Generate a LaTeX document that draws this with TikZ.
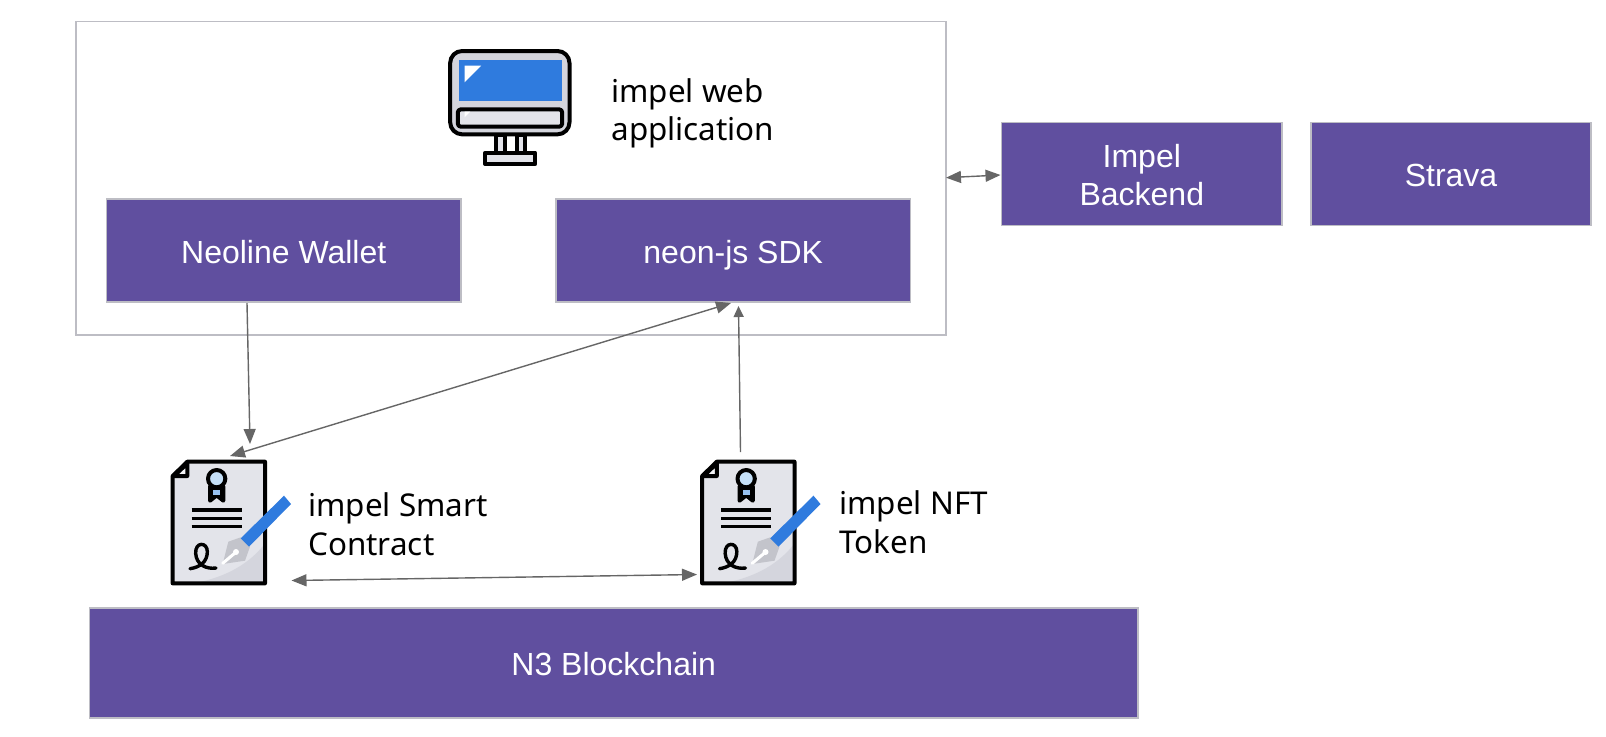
\documentclass[tikz,border=0pt]{standalone}
\usepackage{fontspec}
\setmainfont{Liberation Sans}
\newfontfamily\labelfont{Noto Sans}
\usetikzlibrary{arrows.meta}
\definecolor{boxpurple}{HTML}{604F9F}
\definecolor{boxedge}{HTML}{BDBDC4}
\definecolor{linkgray}{HTML}{666666}
\definecolor{iconblue}{HTML}{2F7BDE}
\definecolor{iconlight}{HTML}{E3E4EA}
\definecolor{iconmid}{HTML}{D4D5DD}
\definecolor{iconribbon}{HTML}{C5E0F8}
\newcommand{\boxline}[1]{\raisebox{-0.7pt}[0.72em][0pt]{#1}}
\tikzset{
  purplebox/.style={draw=boxedge,line width=0.75pt,fill=boxpurple,text=white,inner sep=0pt,align=center,font=\fontsize{16}{19}\selectfont},
  framebox/.style={draw=boxedge,line width=0.75pt,fill=white,inner sep=0pt},
  textlabel/.style={anchor=west,inner sep=0pt,align=left,text=black,font=\labelfont\fontsize{15.7}{19.3}\selectfont},
  iconholder/.style={inner sep=0pt},
  link/.style={draw=linkgray,line width=0.7pt},
  smalltip/.style={link,-{Triangle[length=5.5pt,width=5pt]}},
  onetip/.style={link,-{Triangle[length=7.5pt,width=6pt]}},
  twotips/.style={link,{Triangle[length=7.5pt,width=6pt]}-{Triangle[length=7.5pt,width=6pt]}},
  ink/.style={draw=black,line width=2pt,line join=round},
  thinink/.style={draw=black,line width=1.7pt,line cap=butt},
  contracticon/.pic={
    \fill[iconlight] (112,95)--(345,95)--(345,460)--(68,460)--(68,138)--cycle;
    \fill[iconmid] (140,458) .. controls (230,440) and (300,400) .. (345,340) -- (345,460) -- cycle;
    \draw[ink] (112,95)--(345,95)--(345,460)--(68,460)--(68,138)--cycle;
    \draw[ink,fill=iconlight!40!white] (112,100)--(112,138)--(72,138)--cycle;
    \draw[ink,fill=black] (180,170)--(180,212)--(200,196)--(220,212)--(220,170)--cycle;
    \fill[iconribbon!70!iconblue] (190,180) rectangle (210,196);
    \draw[ink,fill=iconribbon] (200,146) circle [radius=26];
    \draw[thinink] (125,240)--(275,240) (125,265)--(275,265) (125,290)--(275,290);
    \draw[thinink,line cap=round] (120,416) .. controls (150,412) and (172,395) .. (172,365) .. controls (172,335) and (135,335) .. (137,370) .. controls (139,405) and (170,418) .. (198,414);
    \fill[iconmid!92!black] (235,335)--(272,322)--(300,350)--(285,392)--(218,402)--cycle;
    \draw[white,line width=1.5pt,line cap=round] (218,400)--(256,368);
    \fill[white] (258,366) circle [radius=9];
    \fill[iconblue] (272,325)--(402,197)--(423,222)--(297,350)--cycle;
  },
}
\begin{document}
\begin{tikzpicture}[x=0.5pt,y=-0.5pt]
\useasboundingbox (0,0) rectangle (1606,736);

% Frame and boxes
\node[framebox,minimum width=434.9pt,minimum height=156.75pt] (webframe) at (510.9,178.25) {};
\node[purplebox,minimum width=177.25pt,minimum height=51.5pt] (neoline) at (283.75,250.5) {\boxline{Neoline Wallet}};
\node[purplebox,minimum width=177.25pt,minimum height=51.5pt] (neonjs) at (733.25,250.5) {\boxline{neon-js SDK}};
\node[purplebox,minimum width=140.2pt,minimum height=51.5pt] (backend) at (1141.8,174) {\boxline{Impel}\\\boxline{Backend}};
\node[purplebox,minimum width=140.2pt,minimum height=51.5pt] (strava) at (1451,174) {\boxline{Strava}};
\node[purplebox,minimum width=524.25pt,minimum height=55pt] (chain) at (613.75,663) {\boxline{N3 Blockchain}};

% Monitor icon
\node[iconholder,minimum width=61.5pt,minimum height=58pt] (monitor) at (510.5,107) {};
\begin{scope}[shift={(419.5,30)},x=0.16667pt,y=-0.16667pt]
  \draw[ink,fill=iconmid,rounded corners=6pt] (92,63) rectangle (450,313);
  \fill[iconblue] (117,90) rectangle (428,214);
  \fill[white] (135,107)--(185,107)--(135,157)--cycle;
  \draw[ink,fill=iconlight,rounded corners=1.5pt] (115,238) rectangle (428,290);
  \fill[white] (135,245)--(152,245)--(135,262)--cycle;
  \draw[ink,fill=iconlight] (229,315) rectangle (255,370);
  \draw[ink,fill=iconlight] (291,315) rectangle (316,370);
  \draw[ink,fill=iconlight] (197,368) rectangle (347,402);
\end{scope}

% Contract icons
\node[iconholder,minimum width=47pt,minimum height=61.5pt] (smart) at (219,522.5) {};
\node[iconholder,minimum width=47pt,minimum height=61.5pt] (nft) at (748.5,522.5) {};
\begin{scope}[shift={(150,430)},x=0.16667pt,y=-0.16667pt]
  \pic {contracticon};
\end{scope}
\begin{scope}[shift={(679.5,430)},x=0.16667pt,y=-0.16667pt]
  \pic {contracticon};
\end{scope}

% Labels
\node[textlabel] (weblabel) at (611,113.5) {impel web\\application};
\node[textlabel] (smartlabel) at (308,524) {impel Smart\\Contract};
\node[textlabel] (nftlabel) at (839,522.5) {impel NFT\\Token};

% Connector ends
\coordinate (neolineout) at (247,303);
\coordinate (smartin) at (250,444);
\coordinate (smarttop) at (230,456);
\coordinate (neonbottom) at (731,303);
\coordinate (nftout) at (740.5,452);
\coordinate (neonin) at (738.5,306);
\coordinate (smartside) at (291.5,580.5);
\coordinate (nftside) at (697,574.5);
\coordinate (frameright) at (946,177.7);
\coordinate (backendleft) at (1000.5,175);

% Connectors
\draw[onetip] (neolineout) -- (smartin);
\draw[twotips] (smarttop) -- (neonbottom);
\draw[smalltip] (nftout) -- (neonin);
\draw[twotips] (smartside) -- (nftside);
\draw[twotips] (frameright) -- (backendleft);
\end{tikzpicture}
\end{document}
